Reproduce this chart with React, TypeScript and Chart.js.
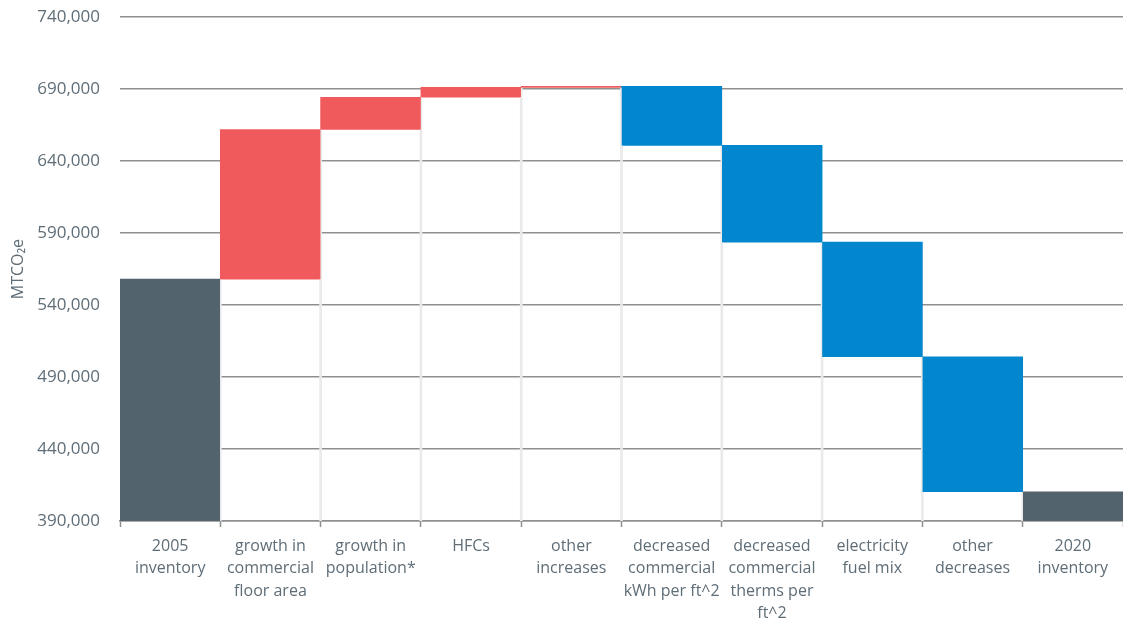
import React, { useEffect, useRef } from "react";
import { Chart, registerables } from "chart.js";

Chart.register(...registerables);

const categories: (string | string[])[] = [
  ["2005", "inventory"],
  ["growth in", "commercial", "floor area"],
  ["growth in", "population*"],
  "HFCs",
  ["other", "increases"],
  ["decreased", "commercial", "kWh per ft^2"],
  ["decreased", "commercial", "therms per", "ft^2"],
  ["electricity", "fuel mix"],
  ["other", "decreases"],
  ["2020", "inventory"],
];
const startValue = 558000;
const changes = [104000, 22400, 6800, 700, -41000, -67200, -79600, -93800];
const yTicks = [390000, 440000, 490000, 540000, 590000, 640000, 690000, 740000];

const totalColor = "#53636e";
const increaseColor = "#f15a5c";
const decreaseColor = "#0287cf";
const textColor = "#5f6d77";
const gridColor = "#8f8f8f";
const FONT = "'Open Sans', 'DejaVu Sans', sans-serif";

export default function App() {
  const ref = useRef<HTMLCanvasElement | null>(null);

  useEffect(() => {
    document.body.style.margin = "0";
    document.body.style.overflow = "hidden";
    const bases: number[] = [0];
    const heights: number[] = [startValue];
    const colors: string[] = [totalColor];
    let running = startValue;
    for (const c of changes) {
      if (c >= 0) {
        bases.push(running);
        heights.push(c);
        colors.push(increaseColor);
      } else {
        bases.push(running + c);
        heights.push(-c);
        colors.push(decreaseColor);
      }
      running += c;
    }
    bases.push(0);
    heights.push(running);
    colors.push(totalColor);

    const chart = new Chart(ref.current!, {
      type: "bar",
      data: {
        labels: categories as any,
        datasets: [
          {
            label: "base",
            data: bases,
            backgroundColor: "rgba(0,0,0,0)",
            borderColor: "#eaeaea",
            borderWidth: { left: 1, right: 1, top: 0, bottom: 0 } as any,
            borderSkipped: false,
            categoryPercentage: 1,
            barPercentage: 1,
          },
          {
            label: "value",
            data: heights,
            backgroundColor: colors,
            borderWidth: 0,
            categoryPercentage: 1,
            barPercentage: 1,
          },
        ],
      },
      options: {
        animation: false,
        responsive: true,
        maintainAspectRatio: false,
        layout: { padding: { top: 4, right: 0, left: 0, bottom: 0 } },
        plugins: { legend: { display: false }, tooltip: { enabled: false } },
        scales: {
          x: {
            stacked: true,
            offset: true,
            grid: {
              offset: true,
              drawOnChartArea: false,
              drawTicks: true,
              tickLength: 6,
              tickColor: gridColor,
              tickWidth: 1.5,
            },
            border: { display: true, color: gridColor, width: 1.5 },
            ticks: {
              color: textColor,
              font: { family: FONT, size: 16, lineHeight: 1.4 },
              maxRotation: 0,
              autoSkip: false,
              padding: 8,
            },
            afterFit: (scale: any) => {
              scale.height = 100;
            },
          },
          y: {
            stacked: true,
            min: 390000,
            max: 740000,
            afterBuildTicks: (scale: any) => {
              scale.ticks = yTicks.map((v) => ({ value: v }));
            },
            grid: { color: gridColor, lineWidth: 1.5, drawTicks: false },
            border: { display: false },
            ticks: {
              color: textColor,
              font: { family: FONT, size: 17 },
              padding: 20,
              callback: (v: any) => Number(v).toLocaleString("en-US"),
            },
            title: {
              display: true,
              text: "MTCO₂e",
              color: textColor,
              font: { family: FONT, size: 16 },
              padding: { top: 9, bottom: 0 },
            },
            afterFit: (scale: any) => {
              scale.width = 120;
            },
          },
        },
      },
    });
    return () => chart.destroy();
  }, []);

  return (
    <div style={{ position: "relative", width: 1123, height: 634, marginTop: -13 }}>
      <canvas ref={ref} />
    </div>
  );
}
